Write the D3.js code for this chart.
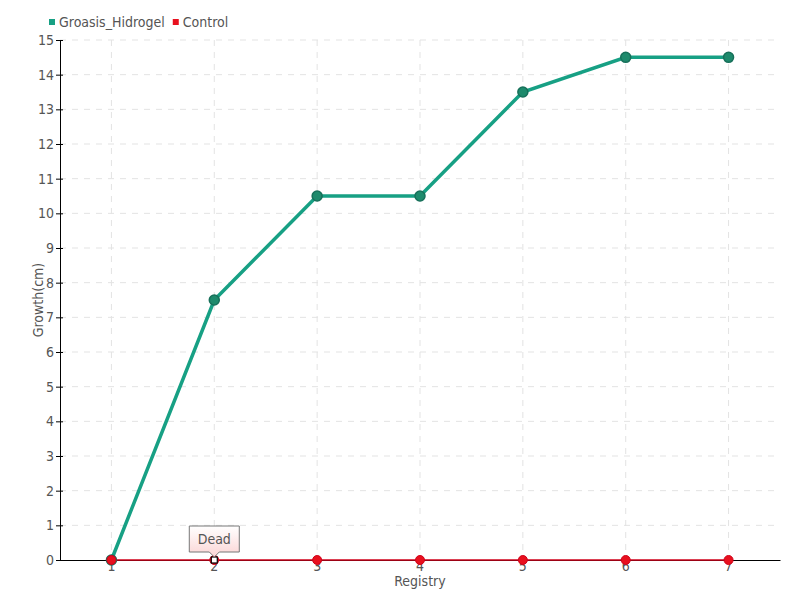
<!DOCTYPE html>
<html><head><meta charset="utf-8">
<script src="https://cdn.jsdelivr.net/npm/d3@7"></script>
<style>
body{margin:0;background:#fff;}
text{font-family:"Liberation Sans Narrow","DejaVu Sans Condensed","Roboto",sans-serif;fill:#555;}
</style></head>
<body><svg id="c" width="800" height="600"></svg>
<script>
const categories = ["1","2","3","4","5","6","7"];
const groasis = [0, 7.5, 10.5, 10.5, 13.5, 14.5, 14.5];
const control = [0, 0, 0, 0, 0, 0, 0];
const yTicks = [0,1,2,3,4,5,6,7,8,9,10,11,12,13,14,15];
const seriesNames = ["Groasis_Hidrogel","Control"];
const annotation = {index:1, text:"Dead"};

const svg = d3.select("#c");
const m = {l:60, r:20, t:40, b:40};
const W = 800, H = 600;
const x = d3.scaleBand().domain(categories).range([m.l, W-m.r]);
const cx = d => x(d) + x.bandwidth()/2;
const y = d3.scaleLinear().domain([0,15]).range([H-m.b, m.t]);

const defs = svg.append("defs");
const g1 = defs.append("linearGradient").attr("id","tip").attr("x1",0).attr("y1",0).attr("x2",0).attr("y2",1);
g1.append("stop").attr("offset","0%").attr("stop-color","#ffffff");
g1.append("stop").attr("offset","100%").attr("stop-color","#fbd4d4");

// grid
svg.append("g").selectAll("line").data(yTicks.slice(1)).join("line")
  .attr("x1",m.l).attr("x2",W-m.r).attr("y1",d=>y(d)).attr("y2",d=>y(d))
  .attr("stroke","#e3e3e3").attr("stroke-dasharray","6,6");
svg.append("g").selectAll("line").data(categories).join("line")
  .attr("x1",cx).attr("x2",cx).attr("y1",m.t).attr("y2",H-m.b)
  .attr("stroke","#e3e3e3").attr("stroke-dasharray","6,6");

// axes
const ya = svg.append("g").attr("transform",`translate(${m.l},0)`)
  .call(d3.axisLeft(y).tickValues(yTicks).tickSize(4).tickSizeOuter(0));
ya.select(".domain").attr("stroke","#000");
ya.selectAll(".tick line").attr("stroke","#000").attr("x2",-4).attr("x1",3);
ya.selectAll(".tick text").attr("x",-6).style("font-size","14px").attr("fill","#555");
const xa = svg.append("g").attr("transform",`translate(0,${H-m.b})`)
  .call(d3.axisBottom(x).tickSize(0).tickSizeOuter(0));
xa.select(".domain").attr("stroke","#000");
xa.selectAll(".tick text").attr("dy","0.55em").style("font-size","14px").attr("fill","#555");

// axis titles
svg.append("text").attr("transform",`translate(43,${(m.t+H-m.b)/2}) rotate(-90)`)
  .attr("text-anchor","middle").style("font-size","14px").text("Growth(cm)");
svg.append("text").attr("x",(m.l+W-m.r)/2).attr("y",586).attr("text-anchor","middle")
  .style("font-size","14px").text("Registry");

// control line
const line = d3.line().x((d,i)=>cx(categories[i])).y(d=>y(d));
svg.append("path").datum(control).attr("d",line).attr("fill","none")
  .attr("stroke","#d0021b").attr("stroke-width",1.5);
// groasis line
svg.append("path").datum(groasis).attr("d",line).attr("fill","none")
  .attr("stroke","#17a084").attr("stroke-width",3.5);
svg.append("g").selectAll("circle").data(groasis).join("circle")
  .attr("cx",(d,i)=>cx(categories[i])).attr("cy",d=>y(d)).attr("r",5)
  .attr("fill","#1e8a6c").attr("stroke","#17705a").attr("stroke-width",1.5);
svg.append("g").selectAll("circle").data(control).join("circle")
  .attr("cx",(d,i)=>cx(categories[i])).attr("cy",d=>y(d)).attr("r",4.5)
  .attr("fill","#e8101e").attr("stroke","#d0021b").attr("stroke-width",1);

// annotation
const ax = cx(categories[annotation.index]), ay = y(control[annotation.index]);
svg.append("rect").attr("x",ax-3).attr("y",ay-3).attr("width",6).attr("height",6)
  .attr("fill","#fff").attr("stroke","#000").attr("stroke-width",1.2);
const tw = 50, th = 26, tb = ay-8;
svg.append("path")
  .attr("d",`M${ax-tw/2},${tb-th} h${tw} v${th} h${-tw/2+5} l-5,5 l-5,-5 h${-tw/2+5} Z`)
  .attr("fill","url(#tip)").attr("stroke","#777").attr("stroke-width",1);
svg.append("text").attr("x",ax).attr("y",tb-th/2+5).attr("text-anchor","middle")
  .style("font-size","14px").text(annotation.text);

// legend
const colors = ["#17a084","#e8101e"];
const lg = svg.append("g");
let lx = 49;
seriesNames.forEach((n,i)=>{
  lg.append("rect").attr("x",lx).attr("y",19).attr("width",6).attr("height",6).attr("fill",colors[i]);
  const t = lg.append("text").attr("x",lx+10).attr("y",27).style("font-size","14px").text(n);
  lx += 10 + t.node().getComputedTextLength() + 8;
});
</script></body></html>
